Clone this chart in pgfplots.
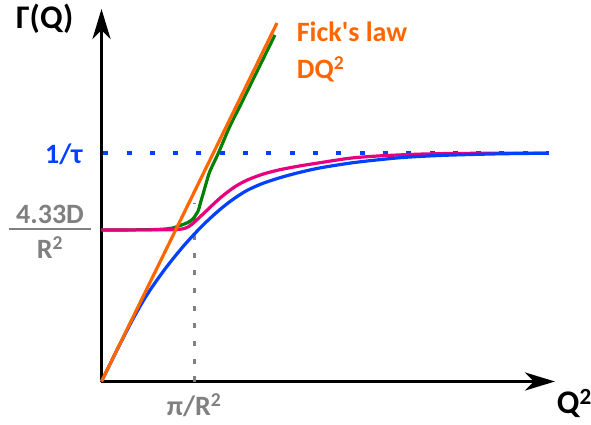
\documentclass[border=0pt]{standalone}
\usepackage{pgfplots}
\pgfplotsset{compat=1.18}
\usetikzlibrary{arrows.meta}
\usepackage{fontspec}
\setmainfont{Carlito}
\definecolor{cOrange}{RGB}{255,102,0}
\definecolor{cBlue}{RGB}{0,64,255}
\definecolor{cMag}{RGB}{230,0,126}
\definecolor{cGreen}{RGB}{0,128,0}
\definecolor{cGray}{RGB}{128,128,128}
\begin{document}
\begin{tikzpicture}
\begin{axis}[
  x=1bp, y=1bp, anchor=origin, at={(0,0)},
  xmin=0, xmax=453.5, ymin=0, ymax=372.5,
  axis lines=left,
  axis line style={line width=3.8bp, -{Stealth[length=30bp,width=18bp,inset=9bp]}},
  every outer x axis line/.append style={-{Stealth[length=30bp,width=18bp,inset=9bp]}},
  every outer y axis line/.append style={-{Stealth[length=30bp,width=18bp,inset=9bp]}},
  xtick=\empty, ytick=\empty,
  clip=false,
]
% gray dotted vertical at pi/R^2
\addplot[cGray, line width=2.7bp, dash pattern=on 5bp off 12.7bp] coordinates {(92.8,0) (92.8,178.5)};
% blue dashed 1/tau
\addplot[cBlue, line width=3.3bp, dash pattern=on 5bp off 18.3bp] coordinates {(1.8,228.5) (447.5,228.5)};
% green
\addplot[cGreen, line width=3.2bp, smooth] coordinates {
(0,151.5) (48.5,151.8) (68.5,153) (78.5,156) (86.5,159) (91.8,163) (94.5,167)
(96.8,171) (99.5,180.5) (101.8,188.2) (105,199.5) (108.5,210.5) (116.8,228.2)
(127.8,254) (139.5,277.5) (156.7,312.5) (173.4,346.5)};
% magenta
\addplot[cMag, line width=3.2bp, smooth] coordinates {
(0,151.5) (60,151.7) (75,152.0) (82,152.8) (87,154.8) (92,158.6) (98.5,164.6)
(106,171.7) (114,179.3) (122,186.3) (133.5,194.8) (145.2,201.2) (161.5,207.4)
(178.5,211.8) (198.5,215.6) (218.5,218.8) (248.5,223.3) (273,225.3) (298.5,226.6)
(323,227.5) (348.5,228.0) (398.5,228.3) (446.5,228.4)};
% blue
\addplot[cBlue, line width=3.2bp, smooth] coordinates {
(0,0) (15,30.5) (30,59.7) (40,77.7) (48.5,91.3) (57,103.6) (65.2,114.7) (73.5,125.2)
(81.8,135.2) (89,143.3) (96.8,151.6) (107,161.7) (118.5,172.0) (131,181.8)
(145.2,190.9) (161,198.0) (178.5,203.8) (198,209.1) (218.5,213.6) (248.5,218.4)
(273,221.3) (298.5,223.8) (323,225.3) (348.5,226.4) (398.5,227.7) (446.8,228.3)};
% orange Fick's law
\addplot[cOrange, line width=3.2bp] coordinates {(0,0) (175.5,358.5)};

\node[anchor=base west, inner sep=0, font=\bfseries\fontsize{33bp}{36bp}\selectfont] at (axis cs:-85.5,353.2) {Γ(Q)};
\node[anchor=base west, inner sep=0, text=cOrange, font=\bfseries\fontsize{28bp}{30bp}\selectfont] at (axis cs:195.2,339.8) {Fick\textquotesingle s law};
\node[anchor=base west, inner sep=0, text=cOrange, font=\bfseries\fontsize{28bp}{30bp}\selectfont] at (axis cs:195.2,303.2) {DQ\textsuperscript{2}};
\node[anchor=base west, inner sep=0, text=cBlue, font=\bfseries\fontsize{28bp}{30bp}\selectfont] at (axis cs:-56.5,218.2) {1/τ};
\node[anchor=base, inner sep=0, text=cGray, font=\bfseries\fontsize{28bp}{30bp}\selectfont] at (axis cs:-51.5,158.2) {4.33D};
\node[anchor=center, inner sep=0, text=cGray] at (axis cs:-51.5,152.2) {\rule{81.4bp}{2.2bp}};
\node[anchor=base, inner sep=0, text=cGray, font=\bfseries\fontsize{28bp}{30bp}\selectfont] at (axis cs:-51.5,123.2) {R\textsuperscript{2}};
\node[anchor=base west, inner sep=0, text=cGray, font=\bfseries\fontsize{28bp}{30bp}\selectfont] at (axis cs:65.2,-33.5) {π/R\textsuperscript{2}};
\node[anchor=base west, inner sep=0, font=\bfseries\fontsize{33bp}{36bp}\selectfont] at (axis cs:455.2,-31.5) {Q\textsuperscript{2}};
\end{axis}
\pgfresetboundingbox
\path[use as bounding box] (-101.5bp,-43.5bp) rectangle (489.5bp,381.5bp);
\end{tikzpicture}
\end{document}
